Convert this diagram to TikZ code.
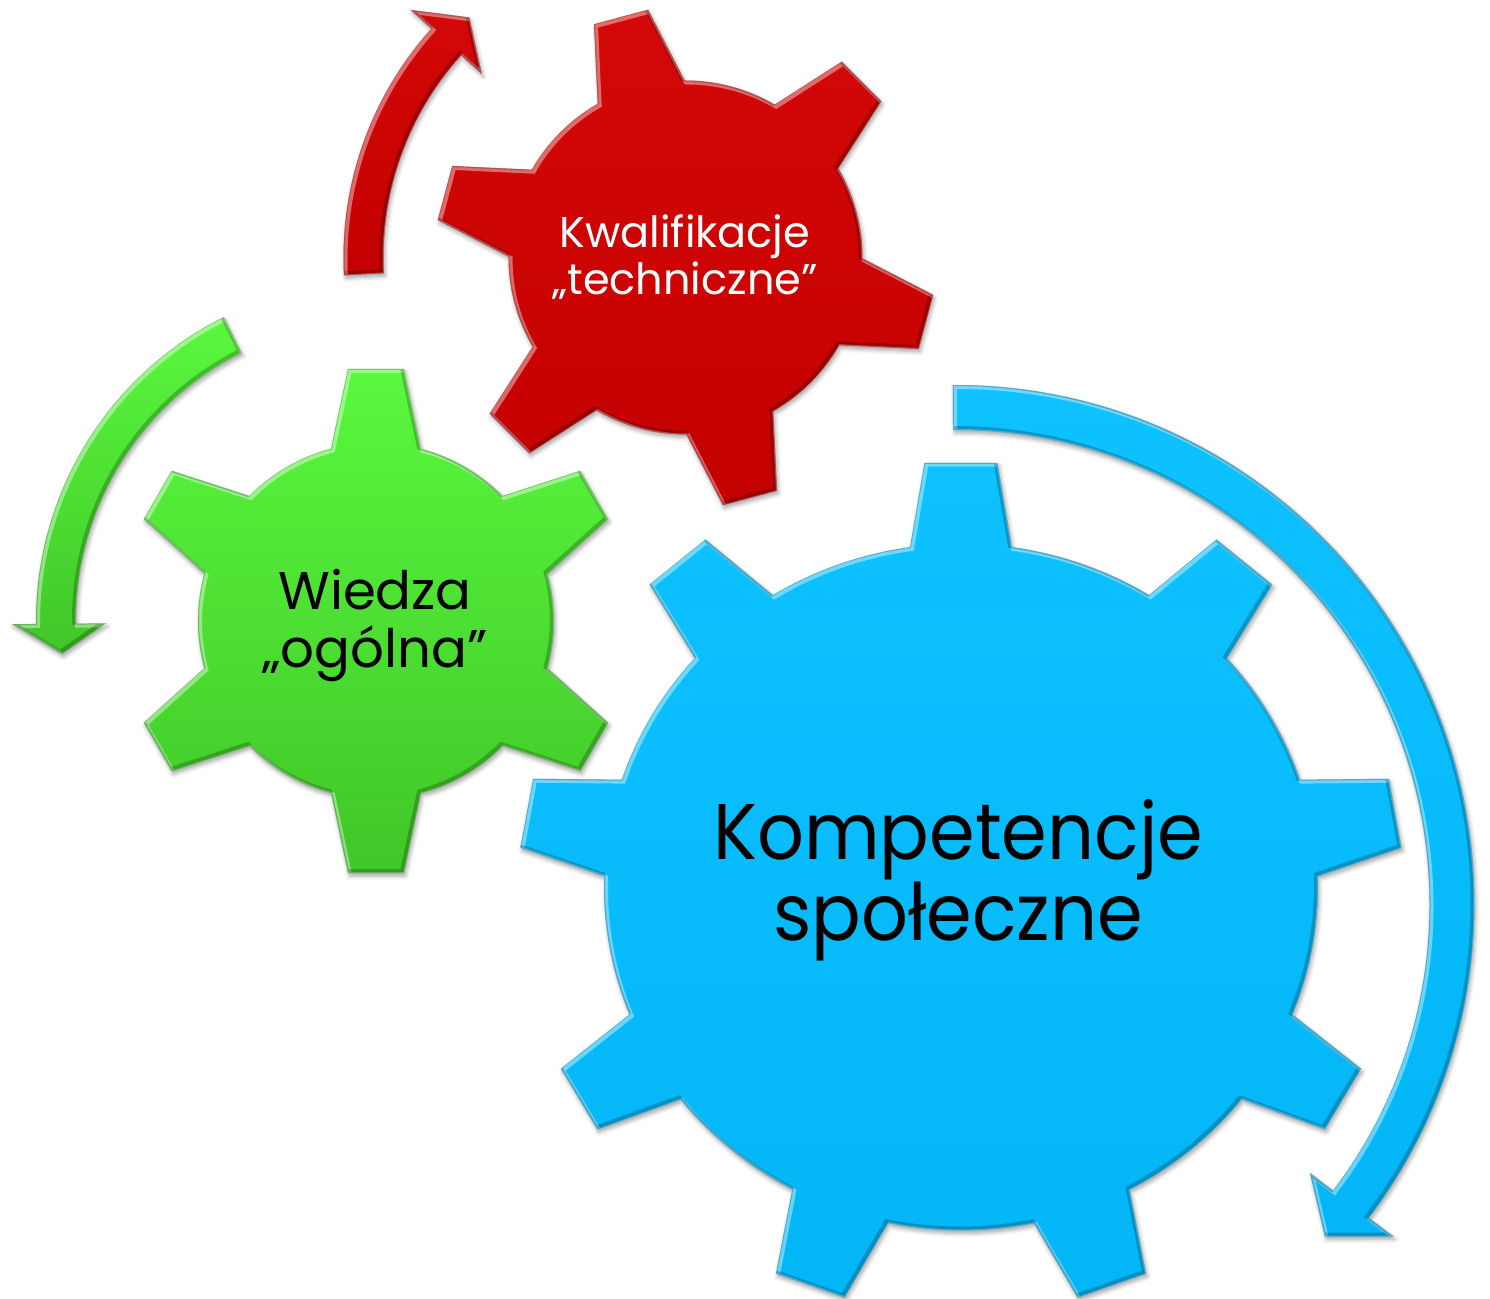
\documentclass[tikz,border=0pt]{standalone}
\usepackage{fontspec}
\setmainfont{Poppins}
\usetikzlibrary{shadows.blur}
\definecolor{gbluetop}{HTML}{0EC1FF}
\definecolor{gbluebot}{HTML}{02B6F7}
\definecolor{gredtop}{HTML}{D40808}
\definecolor{gredbot}{HTML}{C40000}
\definecolor{ggreentop}{HTML}{5AF83E}
\definecolor{ggreenbot}{HTML}{40C628}

% #1 tooth angles, #2 start angle, #3 body radius, #4 base half angle,
% #5 tip radius, #6 tip half angle, #7 arc end offset
\newcommand\gearpath[7]{(#2:#3pt) \foreach \ang in {#1}{ -- ({\ang-#4}:#3pt) -- ({\ang-#6}:#5pt) -- ({\ang+#6}:#5pt) -- ({\ang+#4}:#3pt) arc[start angle={\ang+#4}, end angle={\ang+#7}, radius=#3pt]} -- cycle}

\def\bluegear{\gearpath{90,130,...,410}{81.79}{357}{8.21}{442.5}{4.73}{31.79}}
\def\greengear{\gearpath{90,150,...,390}{75.36}{178}{14.64}{253.6}{6.34}{45.36}}
\def\redgear{\gearpath{-15,45,...,285}{-29.73}{177}{14.73}{250.6}{6.42}{45.27}}

\def\redarrow{(183:302pt) arc[start angle=183, end angle=138, radius=302pt] -- (138:274pt) -- (132:323pt) -- (138:370pt) -- (138:342pt) arc[start angle=138, end angle=183, radius=342pt] -- cycle}
\def\greenarrow{(116.6:340pt) arc[start angle=116.6, end angle=180.5, radius=340pt] -- (180.5:364pt) -- (186:316pt) -- (180.5:270pt) -- (180.5:300pt) arc[start angle=180.5, end angle=116.6, radius=300pt] -- cycle}
\def\bluearrow{(90.3:519pt) arc[start angle=90.3, end angle=-37.2, radius=519pt] -- (-37.2:550pt) -- (-42:497pt) -- (-37.2:445pt) -- (-37.2:474pt) arc[start angle=-37.2, end angle=90.3, radius=474pt] -- cycle}

\newcommand\bevelshape[3]{%
  \path[blur shadow={shadow xshift=1.5pt,shadow yshift=-3pt,shadow blur radius=4pt,shadow opacity=35}, top color=#2, bottom color=#3] #1;
  \begin{scope}
    \clip #1;
    \draw[white, opacity=.4, line width=5pt, shift={(1.5,-1.5)}] #1;
    \draw[black, opacity=.22, line width=5pt, shift={(-1.5,1.5)}] #1;
  \end{scope}}

\tikzset{
  gtext/.style={anchor=base, inner sep=0pt}
}

\begin{document}
\begin{tikzpicture}[x=1pt,y=1pt]
\useasboundingbox (0,0) rectangle (1490,1298);

% gears
\begin{scope}[shift={(961,411)}, yscale=0.962]
  \bevelshape{\bluegear}{gbluetop}{gbluebot}
\end{scope}
\begin{scope}[shift={(376,677)}]
  \bevelshape{\greengear}{ggreentop}{ggreenbot}
\end{scope}
\begin{scope}[shift={(685.5,1040.5)}]
  \bevelshape{\redgear}{gredtop}{gredbot}
\end{scope}

% arrows
\begin{scope}[shift={(685.5,1040.5)}]
  \bevelshape{\redarrow}{gredtop}{gredbot}
\end{scope}
\begin{scope}[shift={(376,677)}]
  \bevelshape{\greenarrow}{ggreentop}{ggreenbot}
\end{scope}
\begin{scope}[shift={(955.5,394)}]
  \bevelshape{\bluearrow}{gbluetop}{gbluebot}
\end{scope}

% texts
\node[gtext, text=white, font=\fontsize{43}{47}\selectfont] (k1) at (685,1050) {Kwalifikacje};
\node[gtext, text=white, font=\fontsize{43}{47}\selectfont] (k2) at (685,1003) {„techniczne”};
\node[gtext, text=black, font=\fontsize{53}{58}\selectfont] (w1) at (375,688) {Wiedza};
\node[gtext, text=black, font=\fontsize{53}{58}\selectfont] (w2) at (375,630) {„ogólna”};
\node[gtext, text=black, font=\fontsize{79}{81}\selectfont] (s1) at (958,438) {\scalebox{0.93}[1]{Kompetencje}};
\node[gtext, text=black, font=\fontsize{79}{81}\selectfont] (s2) at (958,357) {\scalebox{0.93}[1]{społeczne}};
\end{tikzpicture}
\end{document}
